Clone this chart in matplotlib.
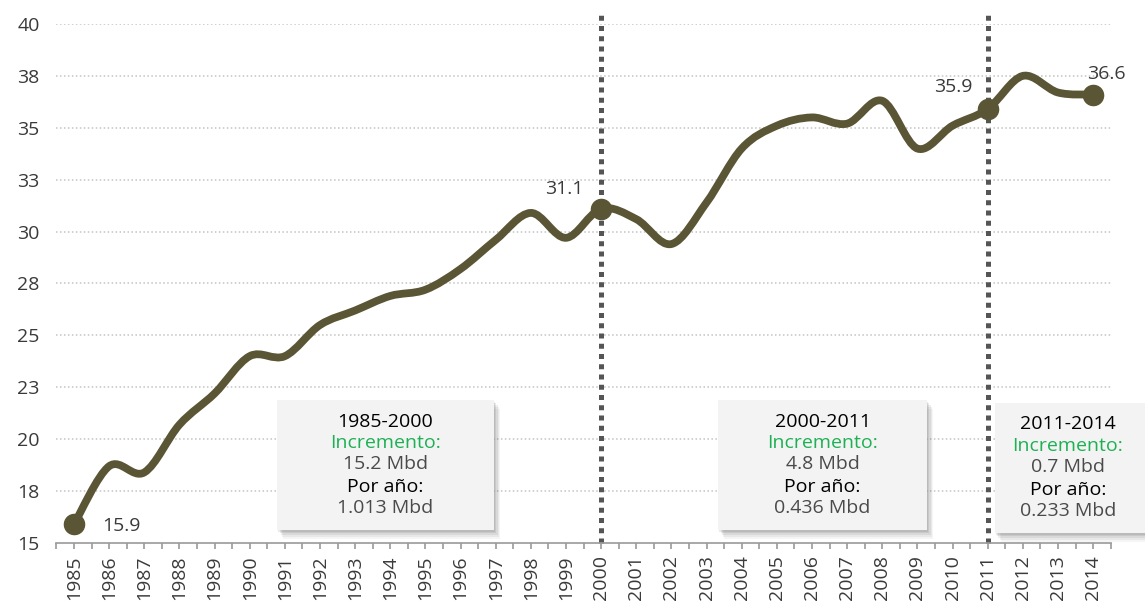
import numpy as np
import matplotlib
matplotlib.use("Agg")
import matplotlib.pyplot as plt
from matplotlib.path import Path
from matplotlib.patches import PathPatch, Rectangle
import matplotlib.patheffects as pe

plt.rcParams['font.family'] = ['Open Sans', 'DejaVu Sans']

# Producción, 1985-2014
years = list(range(1985, 2015))
values = [15.9, 18.7, 18.4, 20.7, 22.2, 24.0, 24.0, 25.5, 26.2, 26.9,
          27.2, 28.2, 29.6, 30.9, 29.7, 31.1, 30.6, 29.4, 31.4, 34.0,
          35.1, 35.5, 35.2, 36.3, 34.0, 35.1, 35.9, 37.5, 36.7, 36.6]

# años con marcador y etiqueta
highlight_years = [1985, 2000, 2011, 2014]
cut_years = [2000, 2011]

y_ticks = [15, 17.5, 20, 22.5, 25, 27.5, 30, 32.5, 35, 37.5, 40]
y_tick_labels = ['15', '18', '20', '23', '25', '28', '30', '33', '35', '38', '40']

periods = ['1985-2000', '2000-2011', '2011-2014']
incremento = ['15.2 Mbd', '4.8 Mbd', '0.7 Mbd']
por_anio = ['1.013 Mbd', '0.436 Mbd', '0.233 Mbd']

LINE = '#5a5535'
GREEN = '#1db154'
TXT = '#3a3a3a'


def smooth_path(xs, ys):
    """Catmull-Rom a través de los puntos, como curvas Bezier cúbicas."""
    pts = np.column_stack([xs, ys]).astype(float)
    ext = np.vstack([pts[0], pts, pts[-1]])
    verts = [pts[0]]
    codes = [Path.MOVETO]
    for i in range(1, len(ext) - 2):
        p0, p1, p2, p3 = ext[i - 1], ext[i], ext[i + 1], ext[i + 2]
        verts += [p1 + (p2 - p0) / 6, p2 - (p3 - p1) / 6, p2]
        codes += [Path.CURVE4] * 3
    return Path(verts, codes)


fig = plt.figure(figsize=(11.45, 6.09), dpi=100)
ax = fig.add_axes([0.0493, 0.1084, 0.9207, 0.8522])
ax.set_xlim(1984.5, 2014.5)
ax.set_ylim(15, 40)

# grid punteado
for yt in y_ticks[1:]:
    ax.axhline(yt, color='#c4c4c4', lw=1.1, ls=(0, (1, 1.6)), zorder=0)

# cortes de periodo
for cy in cut_years:
    ax.plot([cy, cy], [15, 40.6], color='#555555', lw=3.6,
            ls=(0, (1, 1.05)), dash_capstyle='butt', clip_on=False, zorder=1)

ax.add_patch(PathPatch(smooth_path(years, values), fill=False, ec=LINE,
                       lw=5.6, capstyle='round', joinstyle='round', zorder=3))
hx = highlight_years
hy = [values[years.index(y)] for y in hx]
ax.plot(hx, hy, 'o', ms=14.5, color=LINE, zorder=4)

lab_kw = dict(fontsize=14, color=TXT, zorder=5)
ax.annotate(f'{hy[0]}', (hx[0], hy[0]), xytext=(20, -1), textcoords='offset points',
            ha='left', va='center', **lab_kw)
ax.annotate(f'{hy[1]}', (hx[1], hy[1]), xytext=(-13, 14), textcoords='offset points',
            ha='right', va='center', **lab_kw)
ax.annotate(f'{hy[2]}', (hx[2], hy[2]), xytext=(-11, 16), textcoords='offset points',
            ha='right', va='center', **lab_kw)
ax.annotate(f'{hy[3]}', (hx[3], hy[3]), xytext=(-4, 15), textcoords='offset points',
            ha='left', va='center', **lab_kw)

# ejes
for s in ['top', 'right', 'left']:
    ax.spines[s].set_visible(False)
ax.spines['bottom'].set_color('#9a9a9a')
ax.spines['bottom'].set_linewidth(1.2)
ax.set_yticks(y_ticks)
ax.set_yticklabels(y_tick_labels)
ax.tick_params(axis='y', length=0, pad=12, labelsize=14, labelcolor=TXT)
ax.set_xticks(years)
ax.set_xticklabels([str(y) for y in years], rotation=90)
ax.set_xticks(np.arange(1984.5, 2015, 1), minor=True)
ax.tick_params(axis='x', which='both', length=4, width=1.2, color='#9a9a9a',
               direction='out')
ax.tick_params(axis='x', which='major', pad=5, labelsize=14, labelcolor=TXT)

# recuadros por periodo
box_spans = [(1990.78, 1996.95), (2003.33, 2009.27), (2011.2, 2015.6)]
box_cx = [1993.86, 2006.3, 2013.28]
box_top = [21.89, 21.89, 21.75]
box_h = 6.26
shadow = [pe.SimplePatchShadow(offset=(o, -o * 1.4), shadow_rgbFace='#555555', alpha=a)
          for o, a in [(4.5, 0.06), (3.6, 0.08), (2.7, 0.1), (1.8, 0.12), (0.9, 0.12)]]
line_off = [1.04, 2.06, 3.1, 4.2, 5.2]
for (x0, x1), cx, top, per, inc, pa in zip(box_spans, box_cx, box_top,
                                            periods, incremento, por_anio):
    r = Rectangle((x0, top - box_h), x1 - x0, box_h, fc='#f3f3f3', ec='none',
                  clip_on=False, zorder=6)
    r.set_path_effects(shadow + [pe.Normal()])
    ax.add_patch(r)
    rows = [(per, 'black', 'medium'), ('Incremento:', GREEN, 'normal'),
            (inc, '#4a4a4a', 'normal'), ('Por año:', 'black', 'medium'),
            (pa, '#4a4a4a', 'normal')]
    for off, (txt, col, fw) in zip(line_off, rows):
        ax.text(cx, top - off, txt, ha='center', va='center', fontsize=14,
                color=col, fontweight=fw, zorder=7, clip_on=False)

fig.savefig('out.png', dpi=100)
